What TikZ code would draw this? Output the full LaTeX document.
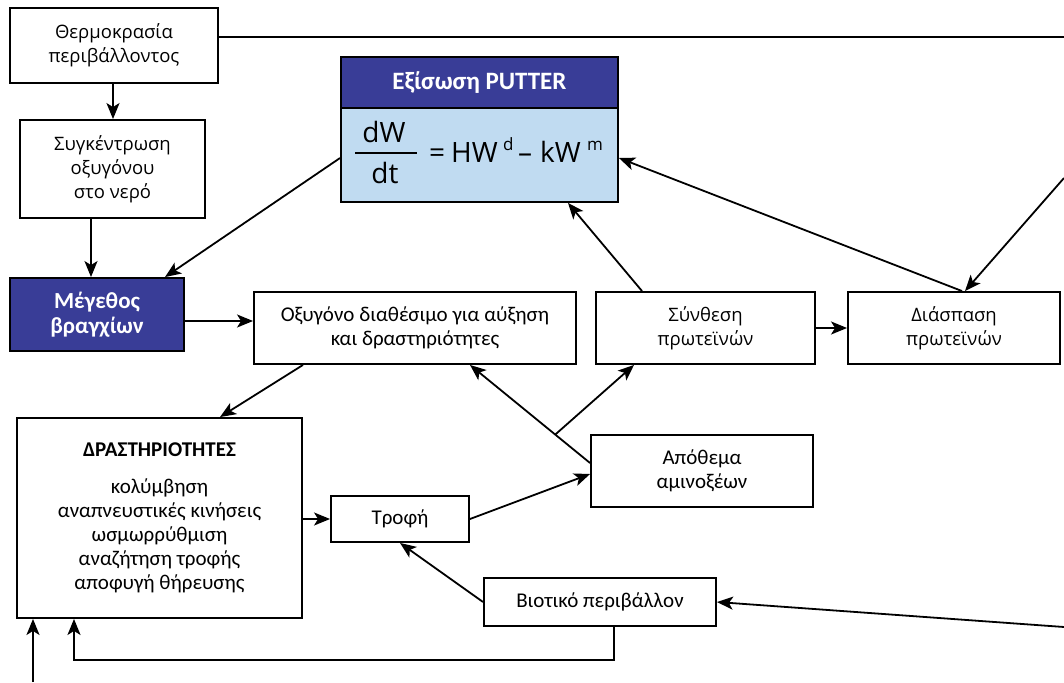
\documentclass[tikz,border=0pt]{standalone}
\usepackage{fontspec}
\setmainfont{Carlito}
\newfontfamily\osfont{Open Sans}
\usetikzlibrary{arrows.meta,calc}
\definecolor{hdrblue}{RGB}{57,61,151}
\definecolor{bodyblue}{RGB}{192,219,241}
\begin{document}
\begin{tikzpicture}[x=1pt,y=-1pt,
  box/.style={draw, line width=1.9pt, fill=white, align=center, inner sep=0pt,
    font=\fontsize{21}{24}\selectfont},
  osbox/.style={box, font=\osfont\fontsize{18.5}{24}\selectfont},
  darkbox/.style={box, fill=hdrblue, text=white, font=\bfseries\fontsize{23}{25}\selectfont},
  eq/.style={font=\osfont\fontsize{28}{30}\selectfont, inner sep=0pt, anchor=base west},
  sup/.style={font=\osfont\fontsize{17}{19}\selectfont, inner sep=0pt, anchor=base west},
  arr/.style={line width=1.8pt, -{Stealth[length=16pt,width=13pt,inset=4pt]}},
  conn/.style={line width=1.8pt}]
\useasboundingbox (0,0) rectangle (1064,682);
% nodes
\node[osbox, minimum width=208, minimum height=75] (thermo) at (114,45.5) {Θερμοκρασία\\περιβάλλοντος};
\node[osbox, minimum width=185, minimum height=98] (sygk) at (112.5,169) {Συγκέντρωση\\οξυγόνου\\στο νερό};
\node[darkbox, minimum width=174, minimum height=73] (meg) at (97,314.5) {Μέγεθος\\βραγχίων};
\node[box, fill=hdrblue, text=white, font=\bfseries\fontsize{25}{27}\selectfont, minimum width=277, minimum height=51] (putterh) at (479.5,82.5) {Εξίσωση PUTTER};
\node[box, fill=bodyblue, minimum width=277, minimum height=94] (putter) at (479.5,155) {};
\node[eq, anchor=base] (eqn) at (384,142) {dW};
\node[eq, anchor=base] (eqd) at (385,183) {dt};
\draw[line width=1.8pt] (355,153) -- (417,153);
\node[eq] (eqa) at (429,162) {=};
\node[eq] (eqh) at (451,162) {HW};
\node[sup] (eqb) at (503,150) {d};
\node[eq] (eqc) at (518,162) {–};
\node[eq] (eqk) at (540,162) {kW};
\node[sup] (eqe) at (587,150) {m};
\node[box, minimum width=322, minimum height=72] (oxy) at (415,328) {Οξυγόνο διαθέσιμο για αύξηση\\και δραστηριότητες};
\node[osbox, minimum width=219, minimum height=72] (synth) at (705.5,328) {Σύνθεση\\πρωτεϊνών};
\node[osbox, minimum width=212, minimum height=72] (dias) at (954,328) {Διάσπαση\\πρωτεϊνών};
\node[box, minimum width=285, minimum height=200] (dras) at (159.5,518) {{\bfseries\fontsize{21}{22}\selectfont ΔΡΑΣΤΗΡΙΟΤΗΤΕΣ}\\[13pt]κολύμβηση\\αναπνευστικές κινήσεις\\ωσμωρρύθμιση\\αναζήτηση τροφής\\αποφυγή θήρευσης};
\node[box, minimum width=138, minimum height=46] (trofi) at (400,519) {Τροφή};
\node[box, minimum width=222, minimum height=72] (apo) at (702,471) {Απόθεμα\\αμινοξέων};
\node[box, minimum width=232, minimum height=48] (bio) at (600,602) {Βιοτικό περιβάλλον};
% helper coordinates
\coordinate (te) at (1064,37);
\coordinate (x91) at (91,0);
\coordinate (x113) at (113,0);
\coordinate (x165) at (165,0);
\coordinate (y321) at (0,321);
\coordinate (x303) at (303,0);
\coordinate (x220) at (220,0);
\coordinate (x642) at (642,0);
\coordinate (x568) at (568,0);
\coordinate (y158) at (0,158);
\coordinate (x965) at (965,0);
\coordinate (x962) at (962,0);
\coordinate (rin) at (1064,178);
\coordinate (y519) at (0,519);
\coordinate (y474) at (0,474);
\coordinate (y463) at (0,463);
\coordinate (x470) at (470,0);
\coordinate (x634) at (634,0);
\coordinate (x400) at (400,0);
\coordinate (bin) at (1064,627);
\coordinate (x614) at (614,0);
\coordinate (x74) at (74,0);
\coordinate (lowin) at (33,682);
\coordinate (bcorner) at (614,660);
\coordinate (lcorner) at (74,660);
% connectors
\draw[conn] (thermo.east |- te) -- (te);
\draw[arr] (thermo.south -| x113) -- (sygk.north -| x113);
\draw[arr] (sygk.south -| x91) -- (meg.north -| x91);
\draw[arr] (putter.west |- y158) -- (meg.north -| x165);
\draw[arr] (meg.east |- y321) -- (oxy.west |- y321);
\draw[arr] (oxy.south -| x303) -- (dras.north -| x220);
\draw[arr] (synth.north -| x642) -- (putter.south -| x568);
\draw[arr] (synth.east) -- (dias.west);
\draw[arr] (dias.north -| x962) -- (putter.east |- y158);
\draw[arr] (rin) -- (dias.north -| x965);
\draw[arr] (dras.east |- y519) -- (trofi.west);
\draw[arr] (trofi.east) -- (apo.west |- y474);
\coordinate (apoout) at (apo.west |- y463);
\coordinate (oxyin) at (oxy.south -| x470);
\draw[arr] (apoout) -- (oxyin);
\coordinate (branch) at ($(apoout)!0.29!(oxyin)$);
\draw[arr] (branch) -- (synth.south -| x634);
\draw[arr] (bio.west) -- (trofi.south -| x400);
\draw[arr] (bin) -- (bio.east);
\draw[arr] (bio.south -| x614) -- (bcorner) -- (lcorner) -- (dras.south -| x74);
\draw[arr] (lowin) -- (dras.south -| lowin);
\end{tikzpicture}
\end{document}
